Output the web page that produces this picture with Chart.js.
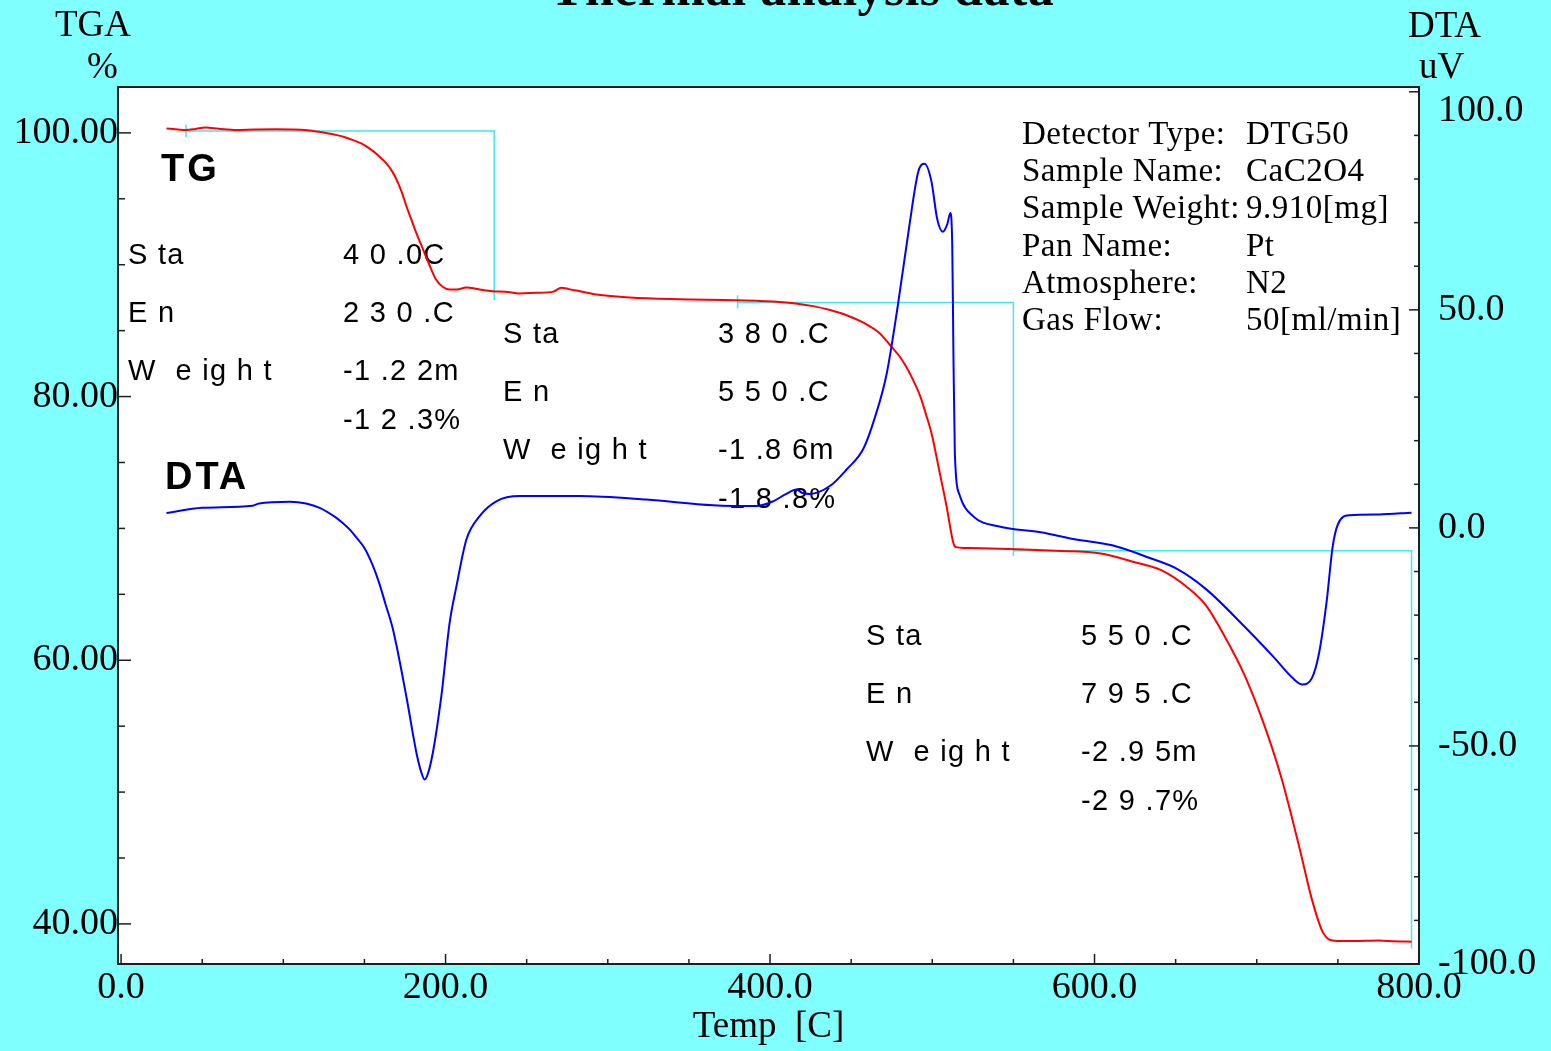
<!DOCTYPE html>
<html>
<head>
<meta charset="utf-8">
<title>Thermal analysis data</title>
<script src="https://cdn.jsdelivr.net/npm/chart.js@4.4.0/dist/chart.umd.min.js"></script>
<style>
  html, body { margin: 0; padding: 0; background: #80ffff; }
  #wrap { width: 1551px; height: 1051px; }
</style>
</head>
<body>
<div id="wrap"><canvas id="thermalChart" width="1551" height="1051"></canvas></div>
<script>
// --- DATA ---
// TG curve: temperature [C] and remaining weight [%]
const tgTemp = [
    28, 35, 40, 46, 52, 60, 71, 82, 95, 106,
    115, 122, 128, 133, 138, 143, 148, 153, 158, 163.5,
    167, 170, 173, 176, 179, 182, 185, 188, 191, 194,
    198, 202.5, 207, 212.8, 218, 221, 229, 237, 245.7, 256,
    266, 271.4, 276, 280.6, 293, 313.5, 344, 379, 406, 426.6,
    437, 447.2, 457.6, 467.7, 474, 480, 483.3, 488, 492.6, 496,
    499.5, 504.2, 508.8, 513, 514.6, 520, 529.7, 552.9, 576.1, 603.9,
    622.5, 641.1, 657.3, 668.9, 680.5, 692.1, 703.7, 715.3, 726.9, 733.9,
    740.9, 747.8, 760, 775, 785, 795.4
];
const tgPercent = [
    100.33, 100.26, 100.22, 100.30, 100.40, 100.32, 100.22, 100.25, 100.27, 100.26,
    100.20, 100.08, 99.95, 99.83, 99.67, 99.45, 99.20, 98.82, 98.35, 97.68,
    97.10, 96.40, 95.50, 94.40, 93.40, 92.40, 91.50, 90.60, 89.70, 88.90,
    88.35, 88.12, 88.12, 88.28, 88.20, 88.12, 87.99, 87.95, 87.82, 87.87,
    87.94, 88.25, 88.15, 88.04, 87.74, 87.51, 87.38, 87.31, 87.18, 86.86,
    86.56, 86.17, 85.60, 84.79, 83.90, 83.02, 82.39, 81.30, 80.01, 78.70,
    77.23, 74.45, 71.68, 68.90, 68.58, 68.52, 68.50, 68.42, 68.30, 68.10,
    67.51, 66.83, 65.52, 64.13, 61.75, 58.97, 55.40, 51.03, 45.48, 41.90,
    39.32, 38.73, 38.70, 38.74, 38.68, 38.65
];

// DTA curve: temperature [C] and signal [uV]
const dtaTemp = [
    28, 50, 81, 85, 104, 114, 122.4, 132.7, 137, 141,
    145, 150, 155, 159.4, 163, 167.6, 175.8, 182, 185, 187.1,
    189, 192.2, 197.4, 202.5, 206.7, 212.8, 221, 231.3, 245.7, 282.7,
    323.8, 364.9, 391.7, 401.9, 410, 416.3, 420, 424.5, 436.9, 447.2,
    457.6, 464.7, 471.7, 478.6, 485.6, 491.4, 495.3, 499.5, 503, 506.5,
    509.3, 511.1, 512.3, 513, 513.9, 516.9, 525.1, 541.3, 566.8, 587.7,
    610.9, 634.1, 650.3, 668.9, 692.1, 710.6, 722.3, 728.1, 733.9, 738.5,
    743.2, 746.7, 750.1, 757.1, 775.3, 795.4
];
const dtaMicroVolt = [
    3.4, 4.6, 5.1, 5.6, 6.0, 5.6, 4.6, 2.3, 1.0, -0.4,
    -2.2, -4.6, -8.5, -13.0, -17.5, -23.3, -38.6, -51.5, -56.0, -57.7,
    -56.5, -51.5, -38.6, -21.8, -13.4, -2.7, 2.7, 6.1, 7.3, 7.3,
    6.5, 5.2, 5.0, 6.1, 7.8, 8.8, 8.0, 7.8, 9.6, 13.4,
    18.2, 25.4, 35.0, 50.6, 68.6, 81.7, 83.5, 79.4, 70.9, 67.9,
    69.7, 72.2, 65.0, 41.1, 17.1, 7.5, 2.7, 0.3, -1.0, -2.6,
    -4.0, -6.9, -9.3, -14.1, -22.5, -29.7, -34.5, -35.9, -34.5, -28.5,
    -16.5, -4.5, 0.9, 2.9, 3.1, 3.5
];

// analysis step markers (null = gap)
const stepTemp =    [40, 40, 40, 40, 230, 230, 230, 380, 380, 380, 380, 550, 550, 550, 550, 795.4, 795.4];
const stepPercent = [100.64, 99.66, null, 100.14, 100.14, 87.31, null, 87.68, 86.68, null, 87.14, 87.14, 67.9, null, 68.3, 68.3, 38.14];

// axis ticks
const tempTicks = [0, 200, 400, 600, 800];
const tempMinorTicks = [50, 100, 150, 250, 300, 350, 450, 500, 550, 650, 700, 750];
const tgaTicks = [40, 60, 80, 100];
const tgaMinorTicks = [45, 50, 55, 65, 70, 75, 85, 90, 95];
const dtaTicks = [-100, -50, 0, 50, 100];
const dtaMinorTicks = [-90, -80, -70, -60, -40, -30, -20, -10, 10, 20, 30, 40, 60, 70, 80, 90];

// step result texts
const stepLabels = ['S ta', 'E n', 'W  e ig h t'];
const stepValues = [
    ['4 0 .0C', '2 3 0 .C', '-1 .2 2m g', '-1 2 .3%'],
    ['3 8 0 .C', '5 5 0 .C', '-1 .8 6m g', '-1 8 .8%'],
    ['5 5 0 .C', '7 9 5 .C', '-2 .9 5m g', '-2 9 .7%']
];

const infoLabels = ['Detector Type:', 'Sample Name:', 'Sample Weight:', 'Pan Name:', 'Atmosphere:', 'Gas Flow:'];
const infoValues = ['DTG50', 'CaC2O4', '9.910[mg]', 'Pt', 'N2', '50[ml/min]'];

// --- STYLE ---
const SERIF = "'Liberation Serif', 'Times New Roman', serif";
const SANS = "'Liberation Sans', Arial, sans-serif";
const AXIS_COLOR = '#1e1e1e';

// block positions (label x, value x, first baseline)
const stepBlockPos = [
    { lx: 128, vx: 343, y: 264 },
    { lx: 503, vx: 718, y: 343 },
    { lx: 866, vx: 1081, y: 645 }
];
const stepRowOffsets = [0, 58, 116, 165];

function putText(ctx, str, x, y, font, spacing, align) {
    ctx.font = font;
    ctx.letterSpacing = (spacing || 0) + 'px';
    ctx.textAlign = align || 'left';
    ctx.textBaseline = 'alphabetic';
    ctx.fillText(str, x, y);
}

function drawTickMarks(ctx, scale, values, len, side, area) {
    values.forEach(v => {
        const p = scale.getPixelForValue(v);
        ctx.beginPath();
        if (side === 'left') { ctx.moveTo(area.left, p); ctx.lineTo(area.left + len, p); }
        else if (side === 'right') { ctx.moveTo(area.right, p); ctx.lineTo(area.right - len, p); }
        else { ctx.moveTo(p, area.bottom); ctx.lineTo(p, area.bottom - len); }
        ctx.stroke();
    });
}

const decorPlugin = {
    id: 'decor',
    beforeDraw(chart) {
        const { ctx, chartArea: a } = chart;
        ctx.save();
        ctx.fillStyle = '#80ffff';
        ctx.fillRect(0, 0, chart.width, chart.height);
        ctx.fillStyle = '#ffffff';
        ctx.fillRect(a.left, a.top, a.right - a.left, a.bottom - a.top);
        ctx.restore();
    },
    beforeDatasetsDraw(chart) {
        const { ctx } = chart;
        ctx.save();
        ctx.fillStyle = '#000';
        // TG / DTA captions
        putText(ctx, 'TG', 161, 181, `bold 38px ${SANS}`, 3);
        putText(ctx, 'DTA', 165, 489, `bold 38px ${SANS}`, 3);

        // step result blocks
        stepBlockPos.forEach((b, bi) => {
            stepLabels.forEach((lbl, ri) => {
                putText(ctx, lbl, b.lx, b.y + stepRowOffsets[ri], `29px ${SANS}`, 1.3);
            });
            stepValues[bi].forEach((val, ri) => {
                ctx.save();
                ctx.beginPath();
                ctx.rect(b.vx - 2, b.y + stepRowOffsets[ri] - 30, 128, 42);
                ctx.clip();
                putText(ctx, val, b.vx, b.y + stepRowOffsets[ri], `29px ${SANS}`, 1.3);
                ctx.restore();
            });
        });

        // instrument info
        infoLabels.forEach((lbl, i) => {
            const y = 144 + i * 37.2;
            putText(ctx, lbl, 1022, y, `33px ${SERIF}`, 0.5);
            putText(ctx, infoValues[i], 1246, y, `33px ${SERIF}`, 0.5);
        });
        ctx.restore();
    },
    afterDraw(chart) {
        const { ctx, chartArea: a, scales } = chart;
        ctx.save();
        // frame
        ctx.strokeStyle = AXIS_COLOR;
        ctx.lineWidth = 2;
        ctx.strokeRect(a.left, a.top, a.right - a.left, a.bottom - a.top);
        // inward tick marks
        ctx.lineWidth = 1.5;
        drawTickMarks(ctx, scales.yTGA, tgaMinorTicks, 7, 'left', a);
        drawTickMarks(ctx, scales.yTGA, tgaTicks, 13, 'left', a);
        drawTickMarks(ctx, scales.yDTA, dtaMinorTicks, 5, 'right', a);
        drawTickMarks(ctx, scales.yDTA, dtaTicks, 10, 'right', a);
        drawTickMarks(ctx, scales.x, tempMinorTicks, 5, 'bottom', a);
        drawTickMarks(ctx, scales.x, tempTicks, 10, 'bottom', a);

        // axis captions and title
        ctx.fillStyle = '#000';
        putText(ctx, 'TGA', 55, 36, `37px ${SERIF}`, 0);
        putText(ctx, '%', 87, 78, `37px ${SERIF}`, 0);
        putText(ctx, 'DTA', 1408, 37, `37px ${SERIF}`, 0);
        putText(ctx, 'uV', 1419, 78, `37px ${SERIF}`, 0);
        putText(ctx, 'Thermal analysis data', 802, 5, `bold 52px ${SERIF}`, 0.5, 'center');
        ctx.restore();
    }
};

const toPoints = (xs, ys) => xs.map((x, i) => ({ x: x, y: ys[i] }));

const tickFont = { family: SERIF, size: 38, lineHeight: 1 };

new Chart(document.getElementById('thermalChart'), {
    type: 'line',
    data: {
        datasets: [
            {
                label: 'TG',
                data: toPoints(tgTemp, tgPercent),
                yAxisID: 'yTGA',
                borderColor: '#ff0000',
                borderWidth: 2,
                pointRadius: 0,
                cubicInterpolationMode: 'monotone',
                order: 2
            },
            {
                label: 'DTA',
                data: toPoints(dtaTemp, dtaMicroVolt),
                yAxisID: 'yDTA',
                borderColor: '#0000ff',
                borderWidth: 2,
                pointRadius: 0,
                cubicInterpolationMode: 'monotone',
                order: 1
            },
            {
                label: 'Steps',
                data: toPoints(stepTemp, stepPercent),
                yAxisID: 'yTGA',
                borderColor: '#40e8f0',
                borderWidth: 1.5,
                pointRadius: 0,
                tension: 0,
                spanGaps: false,
                order: 3
            }
        ]
    },
    options: {
        responsive: false,
        animation: false,
        devicePixelRatio: 1,
        layout: { padding: { top: 87, left: 0, right: 0, bottom: 0 } },
        plugins: {
            legend: { display: false },
            tooltip: { enabled: false },
            title: { display: false }
        },
        scales: {
            x: {
                type: 'linear',
                position: 'bottom',
                min: -1.9,
                max: 800,
                afterFit: (s) => { s.height = 87; },
                afterBuildTicks: (s) => { s.ticks = tempTicks.map(v => ({ value: v })); },
                grid: { display: false, drawTicks: false },
                border: { display: false },
                ticks: {
                    callback: (v) => Number(v).toFixed(1),
                    padding: 5,
                    color: '#000',
                    font: tickFont,
                    maxRotation: 0,
                    autoSkip: false
                },
                title: {
                    display: true,
                    text: 'Temp  [C]',
                    color: '#000',
                    font: { family: SERIF, size: 37, lineHeight: 1 },
                    padding: { top: 0, bottom: 5 }
                }
            },
            yTGA: {
                type: 'linear',
                position: 'left',
                min: 36.96,
                max: 103.48,
                afterFit: (s) => { s.width = 118; },
                afterBuildTicks: (s) => { s.ticks = tgaTicks.map(v => ({ value: v })); },
                grid: { display: false, drawTicks: false },
                border: { display: false },
                ticks: {
                    callback: (v) => Number(v).toFixed(2),
                    padding: 0,
                    color: '#000',
                    font: tickFont
                }
            },
            yDTA: {
                type: 'linear',
                position: 'right',
                min: -100,
                max: 101.1,
                afterFit: (s) => { s.width = 132; },
                afterBuildTicks: (s) => { s.ticks = dtaTicks.map(v => ({ value: v })); },
                grid: { display: false, drawTicks: false, drawOnChartArea: false },
                border: { display: false },
                ticks: {
                    // top label sits a line lower in the original print
                    callback: (v) => v === 100 ? ['', '100.0'] : Number(v).toFixed(1),
                    padding: 19,
                    color: '#000',
                    font: tickFont
                }
            }
        }
    },
    plugins: [decorPlugin]
});
</script>
</body>
</html>
